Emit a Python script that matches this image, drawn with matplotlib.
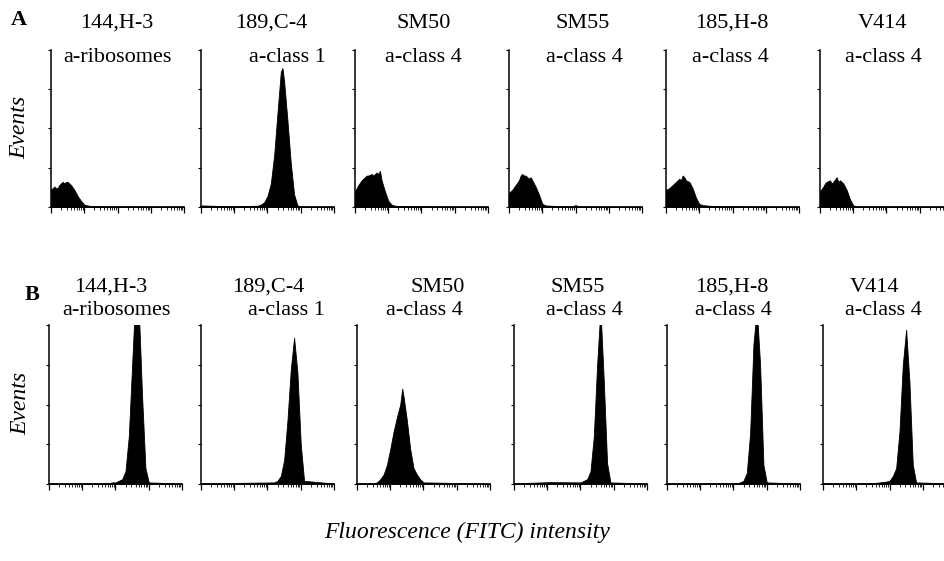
import numpy as np
import matplotlib.pyplot as plt
from matplotlib.ticker import LogLocator, NullFormatter, FixedLocator

plt.rcParams['font.family'] = ['Liberation Serif', 'DejaVu Serif']

# Подписи панелей (клон, антитело)
clones = ["144,H-3", "189,C-4", "SM50", "SM55", "185,H-8", "V414"]
targets = ["a-ribosomes", "a-class 1", "a-class 4", "a-class 4", "a-class 4", "a-class 4"]

# Гистограммы: положение в декадах (log10 интенсивности) и высота (доля от оси Y)
row_a_dec = [
    [0.0, 0.05, 0.1, 0.15, 0.2, 0.25, 0.3, 0.35, 0.4, 0.45, 0.5, 0.55, 0.6, 0.7, 0.8, 0.9, 1.0, 1.1, 1.2, 1.3, 1.6, 2.5, 4.0],
    [0.0, 1.0, 1.7, 1.8, 1.9, 2.0, 2.1, 2.2, 2.3, 2.4, 2.45, 2.5, 2.6, 2.7, 2.8, 2.9, 3.0, 4.0],
    [0.0, 0.05, 0.1, 0.2, 0.3, 0.35, 0.4, 0.5, 0.55, 0.6, 0.65, 0.7, 0.75, 0.8, 0.9, 1.0, 1.1, 1.2, 1.5, 2.5, 4.0],
    [0.0, 0.1, 0.2, 0.3, 0.35, 0.4, 0.45, 0.5, 0.6, 0.65, 0.7, 0.8, 0.9, 1.0, 1.1, 1.5, 1.9, 2.0, 2.1, 4.0],
    [0.0, 0.1, 0.2, 0.3, 0.35, 0.4, 0.45, 0.5, 0.55, 0.6, 0.7, 0.8, 0.9, 1.0, 1.1, 1.2, 1.3, 1.6, 2.5, 4.0],
    [0.0, 0.1, 0.15, 0.2, 0.3, 0.35, 0.4, 0.5, 0.55, 0.6, 0.7, 0.8, 0.9, 1.0, 1.1, 2.0, 4.0],
]
row_a_h = [
    [0.11, 0.12, 0.13, 0.12, 0.12, 0.14, 0.15, 0.16, 0.15, 0.16, 0.16, 0.15, 0.14, 0.11, 0.07, 0.04, 0.015, 0.01, 0.006, 0.005, 0.004, 0.004, 0.003],
    [0.01, 0.004, 0.008, 0.015, 0.03, 0.07, 0.15, 0.33, 0.6, 0.86, 0.885, 0.8, 0.55, 0.28, 0.08, 0.01, 0.004, 0.003],
    [0.10, 0.12, 0.14, 0.17, 0.19, 0.20, 0.20, 0.21, 0.20, 0.21, 0.22, 0.21, 0.23, 0.17, 0.10, 0.04, 0.015, 0.008, 0.005, 0.004, 0.003],
    [0.09, 0.11, 0.14, 0.17, 0.20, 0.21, 0.20, 0.20, 0.18, 0.19, 0.17, 0.13, 0.08, 0.02, 0.01, 0.005, 0.004, 0.012, 0.004, 0.003],
    [0.11, 0.12, 0.14, 0.16, 0.17, 0.18, 0.17, 0.20, 0.19, 0.17, 0.16, 0.12, 0.06, 0.02, 0.012, 0.01, 0.008, 0.005, 0.004, 0.003],
    [0.10, 0.13, 0.15, 0.16, 0.17, 0.15, 0.16, 0.19, 0.16, 0.17, 0.15, 0.11, 0.05, 0.01, 0.004, 0.004, 0.003],
]
row_b_dec = [
    [0.0, 1.8, 1.9, 2.0, 2.1, 2.2, 2.3, 2.4, 2.5, 2.6, 2.7, 2.8, 2.9, 3.0, 4.0],
    [0.0, 2.2, 2.3, 2.4, 2.5, 2.6, 2.7, 2.8, 2.9, 3.0, 3.1, 4.0],
    [0.0, 0.5, 0.6, 0.7, 0.8, 0.9, 1.0, 1.1, 1.2, 1.3, 1.36, 1.4, 1.5, 1.6, 1.7, 1.8, 1.9, 2.0, 4.0],
    [0.0, 1.1, 2.0, 2.1, 2.2, 2.3, 2.4, 2.5, 2.6, 2.7, 2.8, 2.9, 4.0],
    [0.0, 2.1, 2.2, 2.3, 2.4, 2.5, 2.6, 2.7, 2.8, 2.9, 3.0, 4.0],
    [0.0, 1.5, 1.7, 1.9, 2.0, 2.1, 2.2, 2.3, 2.4, 2.5, 2.6, 2.7, 2.8, 4.0],
]
row_b_h = [
    [0.004, 0.005, 0.01, 0.01, 0.02, 0.03, 0.08, 0.3, 0.75, 1.2, 1.1, 0.55, 0.1, 0.01, 0.003],
    [0.004, 0.01, 0.02, 0.05, 0.15, 0.4, 0.72, 0.92, 0.7, 0.25, 0.02, 0.003],
    [0.004, 0.005, 0.01, 0.03, 0.06, 0.12, 0.22, 0.33, 0.42, 0.5, 0.6, 0.55, 0.4, 0.22, 0.1, 0.06, 0.03, 0.01, 0.003],
    [0.004, 0.012, 0.01, 0.02, 0.03, 0.08, 0.3, 0.75, 1.1, 0.65, 0.13, 0.01, 0.003],
    [0.004, 0.005, 0.01, 0.02, 0.07, 0.32, 0.88, 1.1, 0.75, 0.12, 0.01, 0.003],
    [0.004, 0.005, 0.01, 0.015, 0.02, 0.05, 0.1, 0.33, 0.75, 0.97, 0.64, 0.12, 0.01, 0.003],
]

W, H = 945, 561
fig = plt.figure(figsize=(W / 100, H / 100), dpi=100)

def px(x, y):
    # пиксели картинки -> доли фигуры
    return x / W, 1 - y / H

row_a_left = [51, 201, 355, 509, 666, 820]
row_b_left = [49, 201, 357, 514, 667, 823]
panel_w = 133

def make_axes(left, top, bottom):
    x0, y0 = px(left, bottom)
    ax = fig.add_axes([x0, y0, panel_w / W, (bottom - top) / H])
    ax.set_xscale('log')
    ax.set_xlim(1, 1e4)
    ax.set_ylim(0, 1)
    for s in ['top', 'right']:
        ax.spines[s].set_visible(False)
    for s in ['left', 'bottom']:
        ax.spines[s].set_linewidth(1.1)
    ax.xaxis.set_major_locator(LogLocator(base=10, numticks=10))
    ax.xaxis.set_minor_locator(LogLocator(base=10, subs=np.arange(2, 10), numticks=10))
    ax.xaxis.set_major_formatter(NullFormatter())
    ax.xaxis.set_minor_formatter(NullFormatter())
    ax.yaxis.set_major_locator(FixedLocator([0, 0.25, 0.5, 0.75, 1.0]))
    ax.set_yticklabels([])
    ax.tick_params(axis='x', which='major', direction='out', length=4, width=0.9)
    ax.tick_params(axis='x', which='minor', direction='out', length=2, width=0.6)
    ax.tick_params(axis='y', direction='out', length=2, width=0.8)
    ax.patch.set_alpha(0)
    return ax

for i in range(6):
    ax = make_axes(row_a_left[i], 50, 207)
    x = 10 ** np.array(row_a_dec[i])
    ax.fill_between(x, 0, row_a_h[i], color='black', lw=0.6)

    ax = make_axes(row_b_left[i], 325, 484)
    x = 10 ** np.array(row_b_dec[i])
    ax.fill_between(x, 0, row_b_h[i], color='black', lw=0.6)

# Подписи над панелями (центры по горизонтали в пикселях)
a_line1_x = [117, 271, 424, 583, 732, 883]
a_line2_x = [117, 287, 423, 584, 730, 883]
b_line1_x = [111, 268, 438, 578, 732, 875]
b_line2_x = [116, 286, 424, 584, 733, 883]
fs = 16
for i in range(6):
    fig.text(*px(a_line1_x[i], 28), clones[i], ha='center', va='baseline', fontsize=fs)
    fig.text(*px(a_line2_x[i], 62), targets[i], ha='center', va='baseline', fontsize=fs)
    fig.text(*px(b_line1_x[i], 292), clones[i], ha='center', va='baseline', fontsize=fs)
    fig.text(*px(b_line2_x[i], 315), targets[i], ha='center', va='baseline', fontsize=fs)

fig.text(*px(19, 25), "A", ha='center', va='baseline', fontsize=16, fontweight='bold')
fig.text(*px(32, 300), "B", ha='center', va='baseline', fontsize=16, fontweight='bold')

fig.text(*px(20, 127), "Events", ha='center', va='center', rotation=90,
         fontsize=17, fontstyle='italic')
fig.text(*px(21, 403), "Events", ha='center', va='center', rotation=90,
         fontsize=17, fontstyle='italic')

fig.text(*px(467, 538), "Fluorescence (FITC) intensity", ha='center', va='baseline',
         fontsize=17, fontstyle='italic')

fig.savefig('out.png', dpi=100)
